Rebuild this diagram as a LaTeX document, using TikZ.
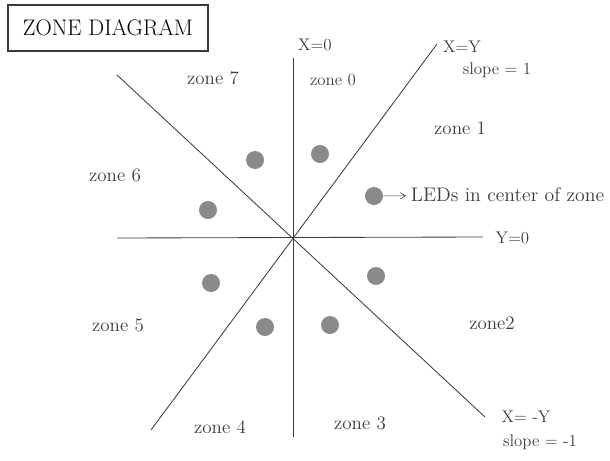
\documentclass[tikz,border=0pt]{standalone}
\usetikzlibrary{
  arrows.meta,
  positioning
}
\definecolor{pencil}{RGB}{60,60,60}
\definecolor{ledgray}{RGB}{138,138,138}
\tikzset{
  axis line/.style={draw=pencil,line width=.6pt},
  led/.style={circle,fill=ledgray,inner sep=0pt,minimum size=.45cm},
  zonelabel/.style={font=\fontsize{13.5}{15}\selectfont,text=pencil},
  linelabel/.style={font=\large,text=pencil,inner sep=1pt},
  pointer/.style={-{Straight Barb[length=1.3mm,width=1.6mm]},draw=pencil,thin},
  titlebox/.style={draw=pencil,thick,font=\fontsize{16}{18}\selectfont,minimum width=5cm,minimum height=1.15cm}
}

\begin{document}
\begin{tikzpicture}[x=.025cm,y=-.025cm]
  \useasboundingbox (0,0) rectangle (610,460);
  \node[titlebox] (title) at (108,28) {ZONE DIAGRAM};

  % zone borders
  \coordinate (origin) at (293,237);
  \coordinate (xtop) at (293,58);
  \coordinate (xbot) at (293,437);
  \coordinate (yleft) at (117,238);
  \coordinate (yright) at (483,237);
  \coordinate (pne) at (437,44);
  \coordinate (psw) at (151,430);
  \coordinate (nnw) at (117,75);
  \coordinate (nse) at (485,417);
  \draw[axis line] (xtop) -- (xbot);
  \draw[axis line] (yleft) -- (yright);
  \draw[axis line] (psw) -- (pne);
  \draw[axis line] (nnw) -- (nse);

  \node[linelabel] (xzero) at (315,45) {X=0};
  \node[linelabel] (xeqy) at (462,47) {X=Y};
  \node[linelabel] (slopepos) at (497,70) {slope = 1};
  \node[linelabel,anchor=west] (yzero) at (494,238) {Y=0};
  \node[linelabel] (xeqmy) at (526,417) {X= -Y};
  \node[linelabel] (slopeneg) at (540,442) {slope = -1};

  % zones
  \node[zonelabel,font=\large] (z0) at (333,80) {zone 0};
  \node[zonelabel] (z1) at (460,128) {zone 1};
  \node[zonelabel] (z2) at (492,323) {zone2};
  \node[zonelabel] (z3) at (360,423) {zone 3};
  \node[zonelabel] (z4) at (220,427) {zone 4};
  \node[zonelabel] (z5) at (118,325) {zone 5};
  \node[zonelabel] (z6) at (115,175) {zone 6};
  \node[zonelabel] (z7) at (213,78) {zone 7};

  % LEDs
  \node[led] (led0) at (320,154) {};
  \node[led] (led1) at (374,196) {};
  \node[led] (led2) at (376,276) {};
  \node[led] (led3) at (330,325) {};
  \node[led] (led4) at (265,327) {};
  \node[led] (led5) at (211,283) {};
  \node[led] (led6) at (208,210) {};
  \node[led] (led7) at (255,160) {};

  \node[zonelabel,font=\fontsize{14}{16}\selectfont,anchor=west] (ledlabel) at (406,195) {LEDs in center of zone};
  \draw[pointer] (led1) -- (ledlabel);
\end{tikzpicture}
\end{document}
